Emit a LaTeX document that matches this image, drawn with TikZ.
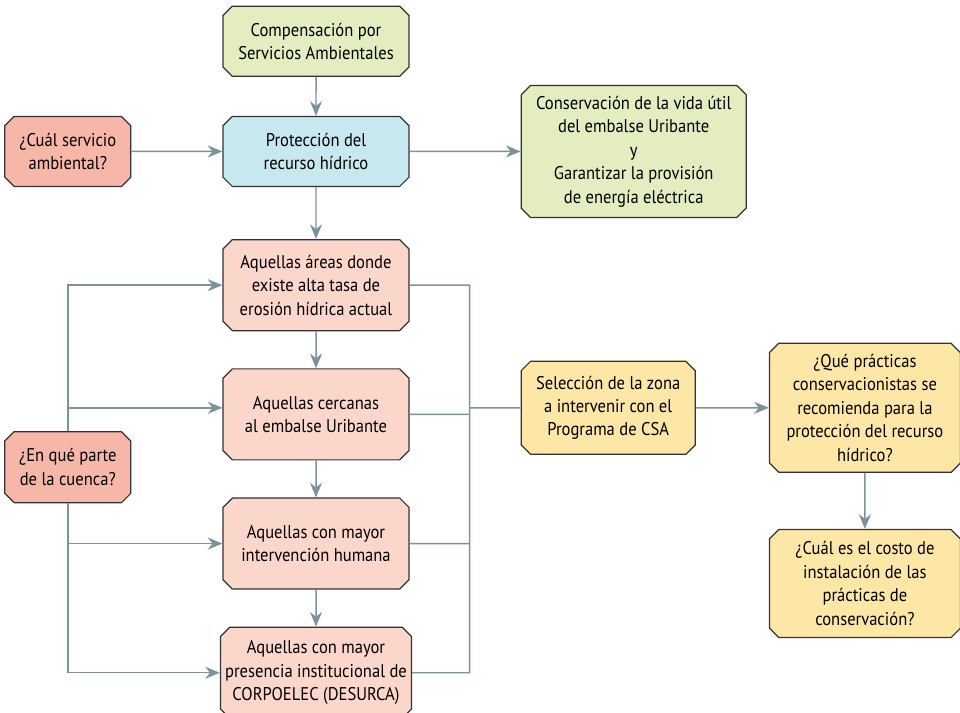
\documentclass[tikz,border=0pt]{standalone}
\usepackage{fontspec}
\setmainfont{PT Sans}[FakeStretch=0.9]
\usepackage{xcolor}
\usetikzlibrary{arrows.meta}
\usetikzlibrary{shapes.misc,positioning}
\definecolor{verde}{HTML}{E4EDBF}
\definecolor{salmon}{HTML}{F6B7A8}
\definecolor{celeste}{HTML}{C8E8F0}
\definecolor{rosa}{HTML}{FBD6CA}
\definecolor{amarillo}{HTML}{FDE7A6}
\definecolor{borde}{HTML}{333333}
\definecolor{linea}{HTML}{7D939A}
\tikzset{font={\fontsize{13.8pt}{17.6pt}\selectfont}}
\tikzset{
  box/.style={chamfered rectangle, chamfered rectangle xsep=3.5pt,
    chamfered rectangle ysep=3.5pt, draw=borde, line width=0.9pt,
    align=center, inner sep=0pt, minimum width=139.5pt},
  link/.style={draw=linea, line width=1.1pt,
    -{Stealth[length=11pt,width=9pt,inset=3.5pt]}},
  wire/.style={draw=linea, line width=1.1pt},
}

\begin{document}
\begin{tikzpicture}
  \useasboundingbox (-237pt,113.6pt) rectangle (483pt,-421.1pt);
  % Define nodes
  \node[box, fill=celeste, minimum height=52.5pt] (prot) {Protección del\\recurso hídrico};
  \node[box, fill=verde, minimum height=52.5pt, above=29.25pt of prot] (comp) {Compensación por\\Servicios Ambientales};
  \node[box, fill=salmon, minimum height=52.5pt, minimum width=94.5pt, left=68.25pt of prot] (cual) {¿Cuál servicio\\ambiental?};
  \node[box, fill=verde, minimum height=99pt, minimum width=168.75pt, right=83.25pt of prot] (cons) {Conservación de la vida útil\\del embalse Uribante\\y\\Garantizar la provisión\\de energía eléctrica};
  \node[box, fill=rosa, minimum height=68.25pt, below=39pt of prot] (areas) {Aquellas áreas donde\\existe alta tasa de\\erosión hídrica actual};
  \node[box, fill=rosa, minimum height=68.25pt, below=27.75pt of areas] (cerca) {Aquellas cercanas\\al embalse Uribante};
  \node[box, fill=rosa, minimum height=68.25pt, below=27.75pt of cerca] (human) {Aquellas con mayor\\intervención humana};
  \node[box, fill=rosa, minimum height=68.25pt, below=27.75pt of human] (inst) {Aquellas con mayor\\presencia institucional de\\CORPOELEC (DESURCA)};
  \node[box, fill=salmon, minimum height=53.25pt, minimum width=94.5pt, below=183pt of cual] (parte) {¿En qué parte\\de la cuenca?};
  \node[box, fill=amarillo, minimum height=69.75pt, minimum width=130.5pt, right=83.25pt of cerca, yshift=4.9pt] (sel) {Selección de la zona\\a intervenir con el\\Programa de CSA};
  \node[box, fill=amarillo, minimum height=96.75pt, minimum width=143.25pt, right=54.75pt of sel] (pract) {¿Qué prácticas\\conservacionistas se\\recomienda para la\\protección del recurso\\hídrico?};
  \node[box, fill=amarillo, minimum height=81pt, minimum width=143.25pt, below=42pt of pract] (costo) {¿Cuál es el costo de\\instalación de las\\prácticas de\\conservación?};
  \coordinate[right=45pt of areas] (bus);

  % Connect the nodes
  \draw[link] (comp) -- (prot);
  \draw[link] (cual) -- (prot);
  \draw[link] (prot) -- (cons);
  \draw[link] (prot) -- (areas);
  \draw[link] (areas) -- (cerca);
  \draw[link] (cerca) -- (human);
  \draw[link] (human) -- (inst);
  \draw[link] (parte.north) |- (areas);
  \draw[link] (parte.north) |- (cerca.west |- sel);
  \draw[link] (parte.south) |- (human);
  \draw[link] (parte.south) |- (inst);
  \draw[wire] (areas) -- (bus) |- (inst);
  \draw[wire] (cerca) -- (cerca -| bus);
  \draw[wire] (human) -- (human -| bus);
  \draw[wire] (bus |- sel) -- (sel);
  \draw[link] (sel) -- (pract);
  \draw[link] (pract) -- (costo);
\end{tikzpicture}
\end{document}
